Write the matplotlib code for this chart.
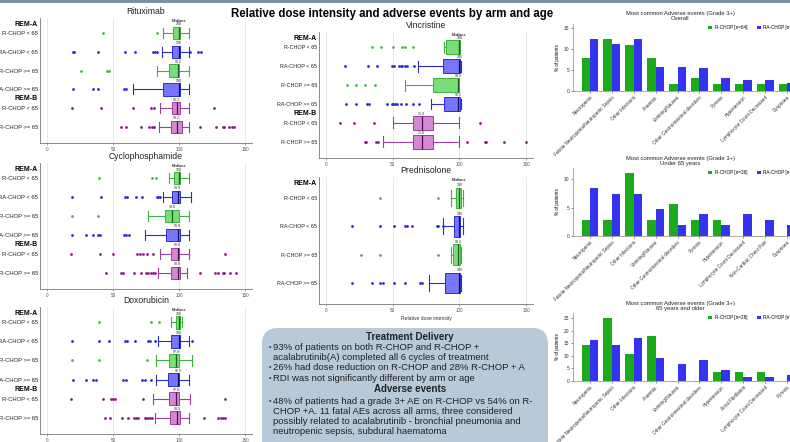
import numpy as np
import matplotlib
matplotlib.use('Agg')
import matplotlib.pyplot as plt
from matplotlib.patches import FancyBboxPatch, Rectangle

plt.rcParams['font.family'] = ['Liberation Sans', 'DejaVu Sans']

# arms shown in the box plots
arms = ['R-CHOP < 65', 'RA-CHOP < 65', 'R-CHOP >= 65', 'RA-CHOP >= 65', 'R-CHOP < 65', 'R-CHOP >= 65']
arm_kind = ['R', 'RA', 'R', 'RA', 'B', 'B']

# relative dose intensity (%) summaries per arm
ritux_med = [100, 100, 99.2, 100, 98.1, 98.1]
ritux_q1 = [95.5, 94.7, 92.4, 88.2, 94.5, 93.7]
ritux_q3 = [100.5, 100.3, 99.8, 100.3, 100.8, 102.0]
ritux_lo = [88.0, 87.4, 83.0, 65.0, 85.6, 85.1]
ritux_hi = [107.8, 107.8, 107.8, 107.8, 107.8, 107.8]
ritux_out = [[42.3, 83.1],
             [19.9, 20.7, 39.0, 59.0, 66.5, 80.6, 81.8, 83.1, 108.3, 114.0, 116.6],
             [26.2, 45.8, 47.1],
             [19.6, 35.3, 39.0, 58.4, 59.7],
             [18.9, 40.8, 65.5, 78.6, 81.1, 126.0],
             [55.9, 59.7, 71.0, 77.6, 79.3, 81.1, 115.9, 128.0, 133.0, 134.0, 138.0, 139.8, 141.6]]

cyclo_med = [100, 98.9, 94.8, 98.8, 98.8, 98.8]
cyclo_q1 = [96.0, 94.8, 89.3, 90.3, 94.0, 93.5]
cyclo_q3 = [101.0, 101.0, 99.8, 101.0, 100.2, 101.0]
cyclo_lo = [92.3, 88.0, 76.8, 74.0, 85.5, 84.3]
cyclo_hi = [107.2, 109.2, 107.7, 107.5, 107.7, 106.0]
cyclo_out = [[39.4, 79.8, 82.5],
             [19.5, 41.1, 59.1, 60.6, 67.3, 71.8, 83.0, 84.0, 85.5],
             [19.2, 38.7],
             [19.2, 29.9, 34.9, 38.7, 40.4, 58.1, 59.9, 62.3],
             [18.7, 40.6, 50.4, 68.0, 70.6, 72.8, 76.0, 80.5, 134.7],
             [44.9, 56.1, 57.9, 65.6, 71.6, 75.3, 76.8, 78.6, 80.3, 81.8, 116.0, 127.2, 129.7,
              132.9, 133.9, 138.4, 142.9]]

doxo_med = [100, 100, 97.8, 99.3, 97.8, 98.5]
doxo_q1 = [97.5, 93.5, 92.3, 91.5, 92.3, 93.0]
doxo_q3 = [101.0, 100.5, 99.8, 99.8, 100.2, 101.0]
doxo_lo = [93.5, 84.0, 82.3, 82.3, 80.5, 81.5]
doxo_hi = [102.2, 107.2, 109.7, 107.2, 108.5, 107.7]
doxo_out = [[39.4, 79.0, 84.8],
            [19.2, 39.4, 46.9, 59.1, 60.6, 66.6, 76.8, 78.0, 81.5, 109.7],
            [19.2, 39.2, 75.6],
            [20.0, 29.9, 34.9, 36.9, 57.4, 59.9, 71.8, 74.0, 78.6],
            [18.2, 42.4, 48.6, 50.4, 51.9, 73.0, 134.7],
            [44.1, 47.9, 56.6, 61.1, 65.6, 67.3, 69.3, 74.0, 75.3, 76.6, 78.0, 79.3, 119.0,
             129.7, 131.4, 133.4, 134.7]]

vinc_med = [100, 100, 99.1, 99.1, 71.8, 71.8]
vinc_q1 = [90.0, 87.5, 80.0, 88.5, 65.5, 65.5]
vinc_q3 = [100.5, 100.5, 100.0, 100.5, 80.0, 80.0]
vinc_lo = [88.5, 69.3, 59.3, 78.8, 50.5, 43.0]
vinc_hi = [100.5, 101.3, 100.0, 101.3, 99.3, 100.0]
vinc_out = [[34.3, 41.0, 50.0, 56.8, 59.3, 65.0],
            [14.3, 31.8, 38.0, 49.3, 51.0, 55.0, 56.3, 57.3, 59.3, 60.5, 66.3],
            [16.0, 23.0, 29.3, 36.8],
            [15.5, 22.3, 31.0, 32.3, 46.0, 49.3, 50.5, 51.8, 53.0, 56.3, 60.0, 65.0, 70.0],
            [10.5, 21.3, 36.0, 115.0],
            [29.3, 30.5, 37.5, 38.8, 105.5, 118.8, 120.0, 133.5, 150.0]]

pred_med = [100, 100, 99.1, 100]
pred_q1 = [97.3, 96.0, 95.0, 89.3]
pred_q3 = [101.0, 100.5, 100.5, 100.5]
pred_lo = [93.8, 88.0, 94.0, 77.3]
pred_hi = [102.3, 102.5, 101.0, 101.5]
pred_out = [[40.5, 83.8],
            [20.0, 40.5, 51.0, 59.3, 60.5, 64.3, 83.0, 84.3, 87.5],
            [26.3, 40.5, 83.8],
            [20.0, 34.8, 40.5, 43.0, 51.3, 59.5, 70.5, 71.8]]

# grade 3+ adverse events, % of patients
overall_cats = ['Neutropenia', 'Febrile Neutropenia/Neutropenic Sepsis', 'Other Infections', 'Anaemia',
                'Vomiting/Nausea', 'Other Gastrointestinal disorders', 'Pyrexia', 'Hypertension',
                'Lymphocyte Count Decreased', 'Dyspnoea']
overall_r = [7.8, 12.5, 10.9, 7.8, 1.6, 3.1, 1.6, 1.6, 1.6, 1.6]
overall_ra = [12.5, 11.2, 12.5, 5.8, 5.8, 5.4, 3.1, 2.7, 2.7, 1.8]

under_cats = ['Neutropenia', 'Febrile Neutropenia/Neutropenic Sepsis', 'Other Infections', 'Vomiting/Nausea',
              'Other Gastrointestinal disorders', 'Pyrexia', 'Hypertension', 'Lymphocyte Count Decreased',
              'Non-Cardiac Chest Pain', 'Dyspnoea']
under_r = [2.8, 2.8, 11.1, 2.8, 5.6, 2.8, 2.8, 0, 0, 0]
under_ra = [8.5, 7.5, 7.5, 4.7, 1.9, 3.8, 1.9, 3.8, 2.8, 1.9]

older_cats = ['Neutropenia', 'Febrile Neutropenia/Neutropenic Sepsis', 'Other Infections', 'Anaemia',
              'Vomiting/Nausea', 'Other Gastrointestinal disorders', 'Hypertension', 'Atrial Fibrillation',
              'Lymphocyte Count Decreased', 'Pyrexia']
older_r = [14.3, 25.0, 10.7, 17.9, 0, 0, 3.6, 3.6, 3.6, 0]
older_ra = [16.1, 14.4, 16.9, 9.3, 6.8, 8.5, 4.2, 1.7, 1.7, 2.5]

GREEN = '#1aab1a'
BLUE = '#3434f0'
colours = {'R': ('#79dd79', '#3cb43c', '#1d5e1d', '#3cbf3c'),
           'RA': ('#7676fb', '#2d2dd8', '#10106a', '#2a2ad6'),
           'B': ('#d488d4', '#9a3f9a', '#4d104d', '#8b1a8b')}

W, H = 790, 442
fig = plt.figure(figsize=(W / 100, H / 100), dpi=100)

# pixel-space overlay for the title, banner and summary box
ax0 = fig.add_axes([0, 0, 1, 1])
ax0.set_xlim(0, W)
ax0.set_ylim(H, 0)
ax0.axis('off')


def px_axes(x0, y0, x1, y1):
    return fig.add_axes([x0 / W, 1 - y1 / H, (x1 - x0) / W, (y1 - y0) / H])


def box_panel(rect, title, kinds, med, q1, q3, lo, hi, out, groups, width, pad_top, pad_bot,
              label_size, xlabel=None):
    ax = px_axes(*rect)
    n = len(med)
    for i in range(n):
        face, edge, dark, dot = colours[kinds[i]]
        st = dict(med=med[i], q1=q1[i], q3=q3[i], whislo=lo[i], whishi=hi[i], fliers=out[i])
        ax.bxp([st], positions=[i], widths=width, orientation='horizontal', patch_artist=True,
               manage_ticks=False, capwidths=width * 0.8,
               boxprops=dict(facecolor=face, edgecolor=edge, linewidth=0.7),
               whiskerprops=dict(color=edge, linewidth=0.8),
               capprops=dict(color=edge, linewidth=0.8),
               medianprops=dict(color=dark, linewidth=0.9),
               flierprops=dict(marker='o', markersize=2.0, markerfacecolor=dot, markeredgecolor='none'))
        ax.text(med[i], i - width / 2 - 0.02, f'{med[i]:g}', fontsize=2.6, ha='center', va='bottom',
                color='#333333')
    ax.text(med[0], -width / 2 - 0.2, 'Medians', fontsize=2.6, ha='center', va='bottom',
            fontweight='bold', color='#333333')
    ax.set_xlim(-5, 155)
    ax.set_ylim(n - 1 + pad_bot, -pad_top)
    ax.set_xticks([0, 50, 100, 150])
    ax.set_yticks(range(n))
    ax.set_yticklabels(arms[:n])
    ax.tick_params(axis='x', labelsize=3.3, colors='#555555', length=1.5, width=0.4, pad=1.5)
    ax.tick_params(axis='y', labelsize=label_size, length=0, pad=1.5, colors='#222222')
    ax.xaxis.grid(True, color='#e6e6e6', linewidth=0.6)
    ax.set_axisbelow(True)
    for s in ['top', 'right']:
        ax.spines[s].set_visible(False)
    for s in ['left', 'bottom']:
        ax.spines[s].set_color('#777777')
        ax.spines[s].set_linewidth(0.6)
    for y, g in groups:
        ax.text(-0.012, y, g, transform=ax.get_yaxis_transform(), ha='right', va='center',
                fontsize=5.0, fontweight='bold')
    ax.set_title(title, fontsize=6.2, pad=3, color='#222222')
    if xlabel:
        ax.set_xlabel(xlabel, fontsize=3.6, labelpad=2, color='#333333')
    return ax


six = [(-0.45, 'REM-A'), (3.5, 'REM-B')]
box_panel((40, 18, 252, 143), 'Rituximab', arm_kind, ritux_med, ritux_q1, ritux_q3, ritux_lo,
          ritux_hi, ritux_out, six, 0.66, 0.8, 0.85, 4.2)
box_panel((40, 163, 252, 289), 'Cyclophosphamide', arm_kind, cyclo_med, cyclo_q1, cyclo_q3, cyclo_lo,
          cyclo_hi, cyclo_out, six, 0.66, 0.8, 0.85, 4.2)
box_panel((40, 307, 252, 434), 'Doxorubicin', arm_kind, doxo_med, doxo_q1, doxo_q3, doxo_lo,
          doxo_hi, doxo_out, six, 0.66, 0.8, 0.85, 4.2)
box_panel((319, 32, 533, 158), 'Vincristine', arm_kind, vinc_med, vinc_q1, vinc_q3, vinc_lo,
          vinc_hi, vinc_out, six, 0.72, 0.8, 0.85, 3.9)
box_panel((319, 177, 533, 304), 'Prednisolone', arm_kind[:4], pred_med, pred_q1, pred_q3, pred_lo,
          pred_hi, pred_out, [(-0.5, 'REM-A')], 0.72, 0.74, 0.74, 3.9, xlabel='Relative dose intensity')


def bar_panel(rect, cats, r_vals, ra_vals, ymax, yticks, legend_labels, legend_xy):
    ax = px_axes(*rect)
    x = np.arange(len(cats))
    ax.bar(x - 0.19, r_vals, 0.38, color=GREEN, label=legend_labels[0])
    ax.bar(x + 0.19, ra_vals, 0.38, color=BLUE, label=legend_labels[1])
    ax.set_xlim(-0.77, 10.5)
    ax.set_ylim(0, ymax)
    ax.set_yticks(yticks)
    ax.set_xticks(x)
    ax.set_xticklabels(cats, rotation=45, ha='right', rotation_mode='anchor')
    ax.tick_params(axis='x', labelsize=3.3, length=1.2, width=0.4, pad=1.5, colors='#333333')
    ax.tick_params(axis='y', labelsize=3.5, length=1.2, width=0.4, pad=1.5, colors='#333333')
    ax.set_ylabel('% of patients', fontsize=3.3, labelpad=3)
    for s in ['top', 'right']:
        ax.spines[s].set_visible(False)
    for s in ['left', 'bottom']:
        ax.spines[s].set_color('#888888')
        ax.spines[s].set_linewidth(0.5)
    ax.legend(loc='upper left', bbox_to_anchor=(legend_xy[0] / W, 1 - legend_xy[1] / H),
              bbox_transform=fig.transFigure, ncol=2, frameon=False, fontsize=3.3,
              handlelength=0.9, handleheight=0.9, handletextpad=0.6, columnspacing=2.0,
              borderpad=0, borderaxespad=0)
    return ax


bar_panel((573, 24, 820, 91), overall_cats, overall_r, overall_ra, 16, [0, 5, 10, 15],
          ['R-CHOP [n=64]', 'RA-CHOP [n=224]'], (708, 25))
bar_panel((573, 168, 820, 236), under_cats, under_r, under_ra, 12, [0, 5, 10],
          ['R-CHOP [n=36]', 'RA-CHOP [n=106]'], (708, 170))
bar_panel((573, 313, 820, 381), older_cats, older_r, older_ra, 27, [0, 5, 10, 15, 20, 25],
          ['R-CHOP [n=28]', 'RA-CHOP [n=118]'], (708, 315))

# banner, main title and chart headings
ax0.add_patch(Rectangle((0, 0), W, 3, color='#7894a6', lw=0))
ax0.text(392, 14, 'Relative dose intensity and adverse events by arm and age', ha='center', va='center',
         fontsize=8.3, fontweight='bold')
for yc, sub in [(16, 'Overall'), (161, 'Under 65 years'), (306, '65 years and older')]:
    ax0.text(680, yc, 'Most common Adverse events (Grade 3+)\n' + sub, ha='center', va='center',
             fontsize=4.2, linespacing=1.1, color='#222222')

# summary box
ax0.add_patch(FancyBboxPatch((262, 328), 286, 140, boxstyle='round,pad=0,rounding_size=16',
                             fc='#b8cad7', ec='none'))
ax0.text(410, 337, 'Treatment Delivery', ha='center', va='center', fontsize=7, fontweight='bold',
         color='#222222')
ax0.text(410, 389, 'Adverse events', ha='center', va='center', fontsize=7, fontweight='bold',
         color='#222222')
body = [(347.5, True, '93% of patients on both R-CHOP and R-CHOP +'),
        (357.5, False, 'acalabrutinib(A) completed all 6 cycles of treatment'),
        (368, True, '26% had dose reduction on R-CHOP and 28% R-CHOP + A'),
        (378.5, True, 'RDI was not significantly different by arm or age'),
        (401.5, True, '48% of patients had a grade 3+ AE on R-CHOP vs 54% on R-'),
        (411.5, False, 'CHOP +A. 11 fatal AEs across all arms, three considered'),
        (421.5, False, 'possibly related to acalabrutinib - bronchial pneumonia and'),
        (431.5, False, 'neutropenic sepsis, subdural haematoma')]
for y, bullet, line in body:
    if bullet:
        ax0.text(269, y, '•', ha='left', va='center', fontsize=5, color='#333333')
    ax0.text(273, y, line, ha='left', va='center', fontsize=6.8, color='#222222')

fig.savefig('out.png', dpi=100)
